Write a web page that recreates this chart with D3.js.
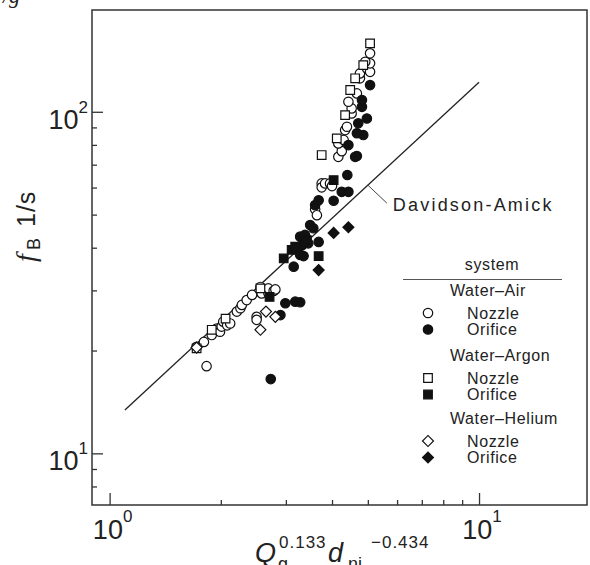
<!DOCTYPE html>
<html>
<head>
<meta charset="utf-8">
<script src="https://cdn.jsdelivr.net/npm/d3@7"></script>
<style>
  body { margin: 0; background: #fff; }
  svg { display: block; }
  text { font-family: "Liberation Sans", Arial, sans-serif; fill: #222; }
</style>
</head>
<body>
<div id="chart"></div>
<script>
const width = 590, height = 565;
const frame = { left: 92, right: 587, top: 10, bottom: 505 };

// axis extents and ticks
const xDomain = [0.896, 19.6];
const yDomain = [7.06, 198.6];
const xMajor = [1, 10];
const xMinor = [2, 3, 4, 5, 6, 7, 8, 9];
const yMajor = [10, 100];
const yMinor = [8, 9, 20, 30, 40, 50, 60, 70, 80, 90];
const xExp = ["0", "1"];
const yExp = ["1", "2"];

// data: [Qg^0.133 dni^-0.434, fB]
const airNozzle = [
  [1.72, 20.5], [1.80, 21.2], [1.83, 18.0], [1.89, 22.2], [1.95, 23.2], [1.99, 22.7],
  [2.01, 23.5], [2.03, 24.3], [2.08, 23.7], [2.12, 24.0], [2.21, 26.0], [2.26, 26.6],
  [2.28, 27.2], [2.35, 28.1], [2.43, 29.1], [2.50, 25.1], [2.50, 24.6], [2.56, 30.7],
  [2.58, 29.4], [2.69, 29.5], [2.69, 30.4], [2.78, 29.9], [2.81, 30.2],
  [3.60, 51.8], [3.64, 49.8], [3.75, 61.7], [3.75, 60.1], [3.83, 61.7], [3.95, 61.7],
  [4.00, 60.6], [4.16, 73.8], [4.25, 76.7], [4.16, 80.8], [4.30, 82.7], [4.34, 88.4],
  [4.39, 90.4], [4.52, 98.9], [4.52, 102.3], [4.43, 107.0], [4.67, 113.2], [4.76, 125.3],
  [4.76, 129.5], [4.97, 134.0], [5.07, 130.9], [5.07, 138.6], [4.92, 140.1], [5.07, 148.3]
];
const airOrifice = [
  [2.73, 16.5], [2.90, 25.4], [2.99, 27.5], [3.18, 27.8], [3.28, 27.7], [3.15, 35.2],
  [3.28, 38.1], [3.35, 37.8], [3.24, 39.8], [3.32, 40.7], [3.45, 41.2], [3.68, 41.6],
  [3.28, 43.1], [3.38, 43.6], [3.49, 46.6], [3.56, 45.6], [3.60, 53.3], [3.68, 55.1],
  [4.04, 54.9], [4.25, 58.3], [4.43, 58.3], [4.40, 65.3], [4.62, 73.8], [4.67, 74.2],
  [4.43, 79.9], [4.67, 86.5], [4.86, 85.5], [4.71, 92.5], [4.97, 95.6], [4.82, 103.4],
  [4.82, 108.2], [5.07, 119.7]
];
const argonNozzle = [
  [1.72, 20.3], [1.89, 23.0], [2.06, 24.8], [2.56, 30.4], [3.75, 74.7], [4.12, 83.6],
  [4.34, 97.8], [4.48, 115.8], [4.62, 125.3], [4.86, 137.0], [5.07, 158.6]
];
const argonOrifice = [
  [2.71, 28.7], [2.96, 37.2], [3.11, 39.4], [3.18, 40.3], [3.42, 42.1], [3.68, 37.8], [4.04, 63.1]
];
const heliumNozzle = [[1.72, 20.4], [2.56, 23.0], [2.65, 26.0], [2.81, 25.1]];
const heliumOrifice = [[3.68, 34.4], [4.04, 44.2], [4.43, 45.9]];

// Davidson-Amick correlation, end points
const daLine = [[1.1, 13.4], [10, 122]];
const daAnchor = [5.0, 61];
const daLabel = "Davidson-Amick";

const groups = [
  { title: "Water\u2013Air", items: [
    { name: "Nozzle", data: airNozzle, shape: "circle", filled: false },
    { name: "Orifice", data: airOrifice, shape: "circle", filled: true }] },
  { title: "Water\u2013Argon", items: [
    { name: "Nozzle", data: argonNozzle, shape: "square", filled: false },
    { name: "Orifice", data: argonOrifice, shape: "square", filled: true }] },
  { title: "Water\u2013Helium", items: [
    { name: "Nozzle", data: heliumNozzle, shape: "diamond", filled: false },
    { name: "Orifice", data: heliumOrifice, shape: "diamond", filled: true }] }
];

const svg = d3.select("#chart").append("svg")
  .attr("width", width)
  .attr("height", height);

const x = d3.scaleLog().domain(xDomain).range([frame.left, frame.right]);
const y = d3.scaleLog().domain(yDomain).range([frame.bottom, frame.top]);

// ticks pointing inward
svg.append("g")
  .attr("transform", `translate(0, ${frame.bottom})`)
  .call(d3.axisBottom(x).tickValues(xMajor).tickSize(-12).tickFormat(""))
  .call(g => g.select(".domain").remove());
svg.append("g")
  .attr("transform", `translate(0, ${frame.bottom})`)
  .call(d3.axisBottom(x).tickValues(xMinor).tickSize(-5).tickFormat(""))
  .call(g => g.select(".domain").remove());
svg.append("g")
  .attr("transform", `translate(${frame.left}, 0)`)
  .call(d3.axisLeft(y).tickValues(yMajor).tickSize(-11).tickFormat(""))
  .call(g => g.select(".domain").remove());
svg.append("g")
  .attr("transform", `translate(${frame.left}, 0)`)
  .call(d3.axisLeft(y).tickValues(yMinor).tickSize(-5).tickFormat(""))
  .call(g => g.select(".domain").remove());
svg.selectAll(".tick line").attr("stroke", "#333").attr("stroke-width", 1.3);

svg.append("rect")
  .attr("x", frame.left)
  .attr("y", frame.top)
  .attr("width", frame.right - frame.left)
  .attr("height", frame.bottom - frame.top)
  .attr("fill", "none")
  .attr("stroke", "#333")
  .attr("stroke-width", 1.5);

// power-of-ten tick labels
xMajor.forEach((v, i) => {
  const t = svg.append("text")
    .attr("x", x(v) + 3)
    .attr("y", 539)
    .attr("text-anchor", "middle");
  t.append("tspan").attr("font-size", 27).text("10");
  t.append("tspan").attr("font-size", 17).attr("dy", -17).text(xExp[i]);
});
yMajor.forEach((v, i) => {
  const t = svg.append("text")
    .attr("x", frame.left - 4)
    .attr("y", y(v) + 17)
    .attr("text-anchor", "end");
  t.append("tspan").attr("font-size", 27).text("10");
  t.append("tspan").attr("font-size", 17).attr("dy", -16).text(yExp[i]);
});

// axis titles
const xt = svg.append("text").attr("y", 562);
xt.append("tspan").attr("x", 255).attr("font-size", 27).attr("font-style", "italic").text("Q");
xt.append("tspan").attr("x", 278).attr("y", 570).attr("font-size", 18).text("g");
xt.append("tspan").attr("x", 279).attr("y", 548).attr("font-size", 17).attr("letter-spacing", 1).text("0.133");
xt.append("tspan").attr("x", 328).attr("y", 562).attr("font-size", 27).attr("font-style", "italic").text("d");
xt.append("tspan").attr("x", 348).attr("y", 570).attr("font-size", 18).text("ni");
xt.append("tspan").attr("x", 371).attr("y", 548).attr("font-size", 17).attr("letter-spacing", 1).text("\u22120.434");

const yt = svg.append("text").attr("transform", "translate(35, 262) rotate(-90)");
yt.append("tspan").attr("x", 0).attr("font-size", 28).attr("font-style", "italic")
  .style("font-family", "'Liberation Serif', serif").text("f");
yt.append("tspan").attr("x", 12).attr("dy", 5).attr("font-size", 18).text("B");
yt.append("tspan").attr("x", 35).attr("dy", -5).attr("font-size", 25).attr("letter-spacing", 1).text("1/s");

// scrap of a caption above the frame
svg.append("text").attr("x", 3).attr("y", 3).attr("font-size", 22).attr("font-style", "italic")
  .style("font-family", "'Liberation Serif', serif").text("/g\u00b0");

// Davidson-Amick line
const line = d3.line().x(d => x(d[0])).y(d => y(d[1]));
svg.append("path")
  .datum(daLine)
  .attr("d", line)
  .attr("fill", "none")
  .attr("stroke", "#222")
  .attr("stroke-width", 1.3);

const ax = x(daAnchor[0]), ay = y(daAnchor[1]);
svg.append("line")
  .attr("x1", ax).attr("y1", ay)
  .attr("x2", ax + 19).attr("y2", ay + 18)
  .attr("stroke", "#444")
  .attr("stroke-width", 1);
svg.append("text")
  .attr("x", ax + 25)
  .attr("y", ay + 26)
  .attr("font-size", 18)
  .attr("letter-spacing", 2.2)
  .attr("fill", "#333")
  .text(daLabel);

// markers
const symType = { circle: d3.symbolCircle, square: d3.symbolSquare, diamond: d3.symbolSquare };
const symSize = { circle: 70, square: 74, diamond: 60 };

function marker(sel, shape, filled) {
  sel.attr("d", d3.symbol().type(symType[shape]).size(symSize[shape])())
    .attr("fill", filled ? "#111" : "#fff")
    .attr("stroke", "#111")
    .attr("stroke-width", 1.2);
}

const plot = svg.append("g");
groups.forEach(g => {
  g.items.forEach(it => {
    plot.selectAll(null)
      .data(it.data)
      .join("path")
      .attr("transform", d => `translate(${x(d[0])}, ${y(d[1])})` + (it.shape === "diamond" ? " rotate(45)" : ""))
      .call(marker, it.shape, it.filled);
  });
});

// legend
const lg = svg.append("g");
lg.append("text").attr("x", 492).attr("y", 270).attr("text-anchor", "middle")
  .attr("font-size", 16).attr("letter-spacing", 0.6).text("system");
lg.append("line").attr("x1", 403).attr("x2", 562).attr("y1", 279.5).attr("y2", 279.5)
  .attr("stroke", "#555").attr("stroke-width", 1.2);

const groupY = [290, 355, 418];
groups.forEach((g, gi) => {
  const gy = groupY[gi];
  lg.append("text").attr("x", 450).attr("y", gy + 6)
    .attr("font-size", 16).attr("letter-spacing", 0.6).text(g.title);
  g.items.forEach((it, ii) => {
    const iy = gy + 23 + ii * 16.5;
    lg.append("path")
      .attr("transform", `translate(428, ${iy})` + (it.shape === "diamond" ? " rotate(45)" : ""))
      .call(marker, it.shape, it.filled);
    lg.append("text").attr("x", 467).attr("y", iy + 5.5)
      .attr("font-size", 16).attr("letter-spacing", 0.6).text(it.name);
  });
});
</script>
</body>
</html>
